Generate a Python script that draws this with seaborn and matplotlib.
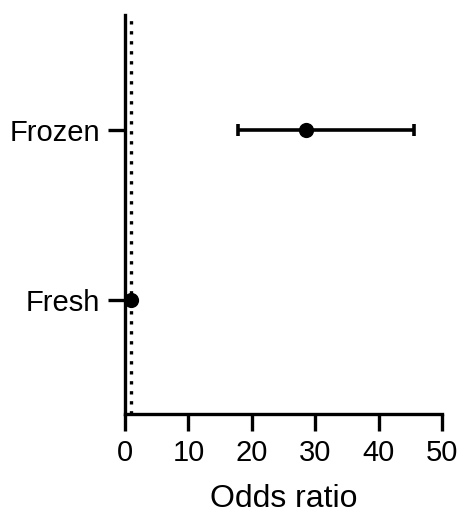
import numpy as np
import pandas as pd
import seaborn as sns
import matplotlib.pyplot as plt

groups = ["Fresh", "Frozen"]
odds_ratio = [1.0, 28.6]
ci_low = [1.0, 17.8]
ci_high = [1.0, 45.6]

df = pd.DataFrame({"group": groups, "or": odds_ratio, "lo": ci_low, "hi": ci_high})
df["pos"] = np.arange(len(df))

sns.set_style("ticks")
plt.rcParams["font.family"] = ["Liberation Sans", "DejaVu Sans"]
plt.rcParams.update({"text.color": "black", "axes.labelcolor": "black",
                     "xtick.color": "black", "ytick.color": "black",
                     "axes.edgecolor": "black"})

fig = plt.figure(figsize=(4.6, 5.15), dpi=100)
ax = fig.add_axes([125 / 460, 101 / 515, 317 / 460, 399 / 515])

ax.axvline(1, color="black", linestyle=(0, (1, 2.0)), linewidth=2.4, zorder=1)
ax.errorbar(df["or"], df["pos"],
            xerr=[df["or"] - df["lo"], df["hi"] - df["or"]],
            fmt="none", ecolor="black", elinewidth=2.6, capsize=4.5, capthick=2.6, zorder=2)
sns.scatterplot(data=df, x="or", y="pos", color="black", s=120, edgecolor="black",
                linewidth=0, zorder=3, ax=ax, legend=False)

ax.set_xlim(0, 50)
ax.set_ylim(-0.67, 1.68)
ax.set_xticks([0, 10, 20, 30, 40, 50])
ax.set_yticks(df["pos"])
ax.set_yticklabels(df["group"])
ax.set_xlabel("Odds ratio", fontsize=23, labelpad=12)
ax.set_ylabel("")

sns.despine(ax=ax)
for s in ["left", "bottom"]:
    ax.spines[s].set_linewidth(2.4)
ax.tick_params(axis="both", labelsize=21, width=2.4, length=12, pad=6)

fig.savefig("out.png", dpi=100)
